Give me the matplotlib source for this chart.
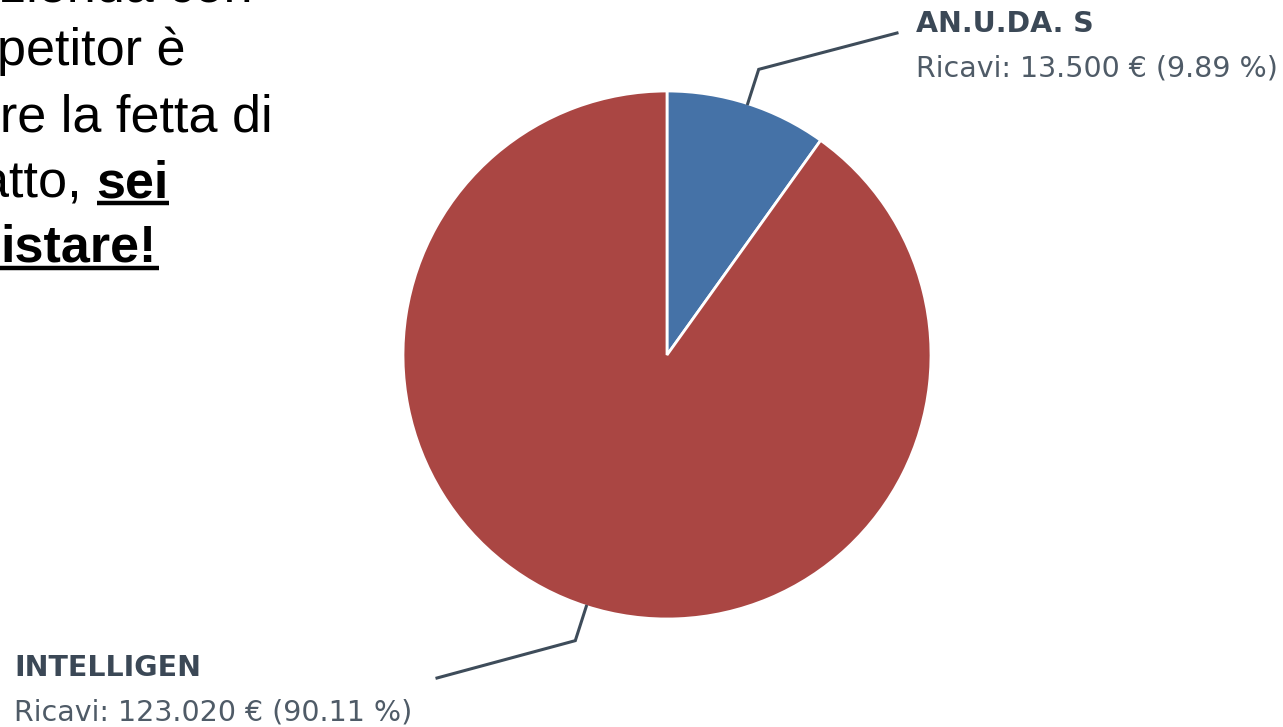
import matplotlib
matplotlib.use("Agg")
import matplotlib.pyplot as plt
import numpy as np

# dati della torta
aziende = ["AN.U.DA. S", "INTELLIGEN"]
ricavi = [13500, 123020]
etichette = ["Ricavi: 13.500 € (9.89 %)", "Ricavi: 123.020 € (90.11 %)"]
colori = ["#4572A7", "#AA4643"]

# testo della slide (tagliato a sinistra)
righe = ["zienda con", "petitor è", "re la fetta di", "atto, ", "istare!"]

W, H = 1283, 727
fig = plt.figure(figsize=(W / 100, H / 100), dpi=100)
ax = fig.add_axes([0, 0, 1, 1])
ax.set_xlim(0, W)
ax.set_ylim(H, 0)
ax.set_aspect("equal")
ax.axis("off")

cx, cy, r = 667, 355, 264
wedges, _ = ax.pie(ricavi, colors=colori, startangle=270, counterclock=True,
                   center=(cx, cy), radius=r, frame=True,
                   wedgeprops=dict(edgecolor="white", linewidth=2))
ax.set_xlim(0, W)
ax.set_ylim(H, 0)
ax.axis("off")

# linee di collegamento e etichette
frazioni = np.array(ricavi) / sum(ricavi)
cum = np.concatenate([[0], np.cumsum(frazioni)[:-1]])
pos_label = [(897, 33), (437, 678)]
pos_testo = [(916, 24), (14, 668)]
col_linea = "#3e4c5a"
for i in range(len(ricavi)):
    th = np.deg2rad(270 + 360 * (cum[i] + frazioni[i] / 2))
    p0 = (cx + r * np.cos(th), cy + r * np.sin(th))
    p1 = (cx + (r + 36) * np.cos(th), cy + (r + 36) * np.sin(th))
    p2 = pos_label[i]
    ax.plot([p0[0], p1[0], p2[0]], [p0[1], p1[1], p2[1]], color=col_linea, lw=2.2,
            solid_joinstyle="miter")
    tx, ty = pos_testo[i]
    ax.text(tx, ty, aziende[i], fontsize=20.5, fontweight="bold", color="#3b4856",
            family="DejaVu Sans", va="center", ha="left")
    ax.text(tx, ty + 44, etichette[i], fontsize=20.5, color="#4f5b67",
            family="DejaVu Sans", va="center", ha="left")

# testo a sinistra
basi = [2, 65, 132, 197, 262]
xs = [0, -3, 0, -20, 0]
fs = 37.5
for i, riga in enumerate(righe):
    bold = i == 4
    ax.text(xs[i], basi[i], riga, fontsize=fs, family="Liberation Sans",
            fontweight="bold" if bold else "normal", color="black",
            va="baseline", ha="left")

fig.canvas.draw()
ren = fig.canvas.get_renderer()
inv = ax.transData.inverted()

# "sei" in grassetto sottolineato dopo "atto, "
t4 = ax.texts[-2]
bb = t4.get_window_extent(ren)
x_end = inv.transform((bb.x1, bb.y0))[0]
t_sei = ax.text(x_end, basi[3], "sei", fontsize=fs, family="Liberation Sans",
                fontweight="bold", color="black", va="baseline", ha="left")
fig.canvas.draw()
bs = t_sei.get_window_extent(ren)
xa = inv.transform((bs.x0, 0))[0]
xb = inv.transform((bs.x1, 0))[0]
ax.plot([xa + 1, xb], [basi[3] + 6, basi[3] + 6], color="black", lw=3.2,
        solid_capstyle="butt")
b5 = ax.texts[-2].get_window_extent(ren)
xb5 = inv.transform((b5.x1, 0))[0]
ax.plot([0, xb5 + 3], [basi[4] + 6, basi[4] + 6], color="black", lw=3.2,
        solid_capstyle="butt")

fig.savefig("out.png", dpi=100, facecolor="white")
